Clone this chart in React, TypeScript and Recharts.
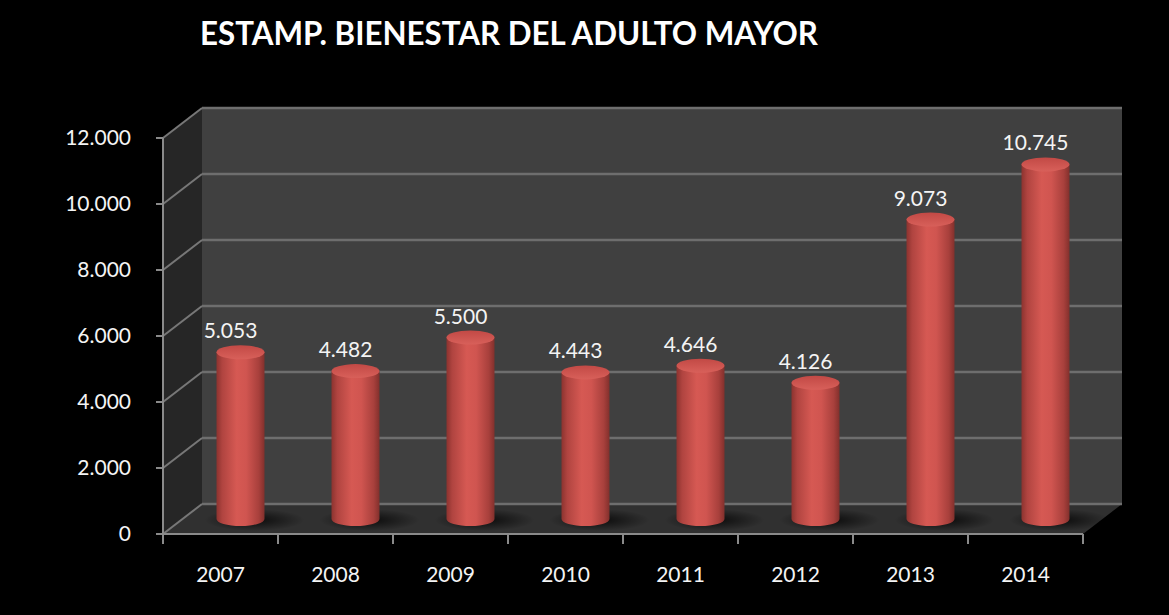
import React from "react";
import {
  BarChart,
  Bar,
  XAxis,
  YAxis,
  CartesianGrid,
  ReferenceArea,
  LabelList,
} from "recharts";

const years = ["2007", "2008", "2009", "2010", "2011", "2012", "2013", "2014"];
const estampillas = [5053, 4482, 5500, 4443, 4646, 4126, 9073, 10745];
const yTicks = [0, 2000, 4000, 6000, 8000, 10000, 12000];
const title = "ESTAMP. BIENESTAR DEL ADULTO MAYOR";

const data = years.map((year, i) => ({ year, valor: estampillas[i] }));

// depth of the fake 3d box
const DX = 39;
const DY = -30;
const FONT = "Lato, 'Open Sans', sans-serif";

const fmt = (v: number) => String(v).replace(/\B(?=(\d{3})+(?!\d))/g, ".");

const Walls = (p: any) => {
  const { x, y, width: w, height: h } = p;
  return (
    <g>
      <defs>
        <linearGradient id="cyl" x1="0" y1="0" x2="1" y2="0">
          <stop offset="0%" stopColor="#8c332f" />
          <stop offset="12%" stopColor="#b04440" />
          <stop offset="42%" stopColor="#d65953" />
          <stop offset="62%" stopColor="#d05550" />
          <stop offset="88%" stopColor="#a8403c" />
          <stop offset="100%" stopColor="#82302c" />
        </linearGradient>
        <linearGradient id="cap" x1="0" y1="0" x2="0" y2="1">
          <stop offset="0%" stopColor="#c24945" />
          <stop offset="100%" stopColor="#d8605a" />
        </linearGradient>
        <radialGradient id="shadow">
          <stop offset="0%" stopColor="#000" stopOpacity={0.75} />
          <stop offset="100%" stopColor="#000" stopOpacity={0} />
        </radialGradient>
      </defs>
      <polygon
        points={`${x},${y} ${x + DX},${y + DY} ${x + DX},${y + h + DY} ${x},${y + h}`}
        fill="#262626"
      />
      <rect x={x + DX} y={y + DY} width={w} height={h} fill="#404040" />
      <polygon
        points={`${x},${y + h} ${x + w},${y + h} ${x + w + DX},${y + h + DY} ${x + DX},${y + h + DY}`}
        fill="#303030"
      />
    </g>
  );
};

const GridLine = (p: any) => {
  const { x1, y1, x2, y2 } = p;
  return (
    <g key={p.key}>
      <line x1={x1} y1={y1} x2={x1 + DX} y2={y1 + DY} stroke="#777" strokeWidth={2} />
      <line x1={x1 + DX} y1={y1 + DY} x2={x2 + DX} y2={y2 + DY} stroke="#6e6e6e" strokeWidth={2.5} />
    </g>
  );
};

const Cylinder = (p: any) => {
  const { x, y, width, height } = p;
  const left = x + DX / 2;
  const top = y + DY / 2;
  const bottom = y + height + DY / 2;
  const rx = width / 2;
  const ry = 7;
  return (
    <g>
      <ellipse cx={left + rx + 14} cy={bottom + 1} rx={rx + 26} ry={ry + 4} fill="url(#shadow)" />
      <path
        d={`M${left},${top} L${left},${bottom} A${rx},${ry} 0 0 0 ${left + width},${bottom} L${left + width},${top} Z`}
        fill="url(#cyl)"
      />
      <ellipse cx={left + rx} cy={top} rx={rx} ry={ry} fill="url(#cap)" />
    </g>
  );
};

const ValueLabel = (p: any) => {
  const { x, y, width, value } = p;
  return (
    <text
      x={x + width / 2 + DX / 2 - 10}
      y={y - 29}
      textAnchor="middle"
      fill="#f4f4f4"
      fontSize={21}
      fontFamily={FONT}
    >
      {fmt(value)}
    </text>
  );
};

const YearTick = (p: any) => {
  const { x, y, payload, index, width, visibleTicksCount } = p;
  const bw = width / visibleTicksCount;
  return (
    <g>
      <line x1={x - bw / 2} y1={y} x2={x - bw / 2} y2={y + 10} stroke="#8a8a8a" strokeWidth={2} />
      {index === visibleTicksCount - 1 && (
        <line x1={x + bw / 2} y1={y} x2={x + bw / 2} y2={y + 10} stroke="#8a8a8a" strokeWidth={2} />
      )}
      <text x={x} y={y + 48} textAnchor="middle" fill="#f4f4f4" fontSize={21} fontFamily={FONT}>
        {payload.value}
      </text>
    </g>
  );
};

export default function App() {
  return (
    <div style={{ position: "fixed", left: 0, top: 0, width: 1169, height: 615, background: "#000" }}>
      <svg width={1169} height={70} style={{ position: "absolute", left: 0, top: 0 }}>
        <text
          x={200}
          y={45}
          textLength={618}
          lengthAdjust="spacingAndGlyphs"
          fill="#fff"
          fontSize={33}
          fontWeight="bold"
          fontFamily={FONT}
        >
          {title}
        </text>
      </svg>
      <BarChart
        width={1169}
        height={615}
        data={data}
        margin={{ top: 138, right: 86, bottom: 41, left: 93 }}
        barSize={48}
        style={{ position: "absolute", left: 0, top: 0 }}
      >
        <ReferenceArea y1={0} y2={12000} shape={Walls} zIndex={-200} />
        <CartesianGrid vertical={false} horizontal={GridLine} fill="none" />
        <XAxis
          dataKey="year"
          height={40}
          tickSize={0}
          tickMargin={0}
          axisLine={{ stroke: "#8a8a8a", strokeWidth: 2 }}
          tick={YearTick}
          interval={0}
        />
        <YAxis
          width={70}
          domain={[0, 12000]}
          ticks={yTicks}
          tickFormatter={fmt}
          tickSize={7}
          tickMargin={25}
          axisLine={{ stroke: "#8a8a8a", strokeWidth: 2 }}
          tickLine={{ stroke: "#8a8a8a", strokeWidth: 2 }}
          tick={{ fill: "#f4f4f4", fontSize: 21, fontFamily: FONT }}
        />
        <Bar dataKey="valor" shape={Cylinder} isAnimationActive={false}>
          <LabelList dataKey="valor" content={ValueLabel} />
        </Bar>
      </BarChart>
    </div>
  );
}
